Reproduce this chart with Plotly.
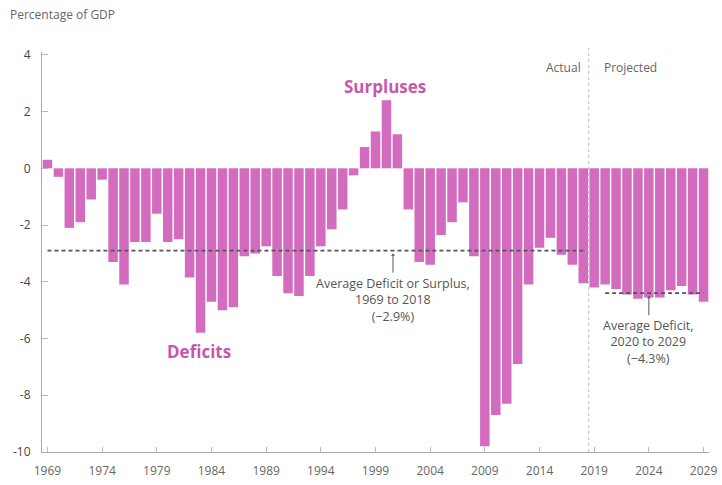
import plotly.graph_objects as go

years = list(range(1969, 2030))
deficit_pct = [
    0.3, -0.3, -2.1, -1.9, -1.1, -0.4, -3.3, -4.1, -2.6, -2.6,   # 1969-1978
    -1.6, -2.6, -2.5, -3.85, -5.8, -4.7, -5.0, -4.9, -3.1, -3.0,  # 1979-1988
    -2.75, -3.8, -4.4, -4.5, -3.8, -2.75, -2.15, -1.45, -0.25, 0.75,  # 1989-1998
    1.3, 2.4, 1.2, -1.45, -3.3, -3.4, -2.35, -1.9, -1.2, -3.1,    # 1999-2008
    -9.8, -8.7, -8.3, -6.9, -4.1, -2.8, -2.45, -3.05, -3.4, -4.05, # 2009-2018
    -4.2, -4.1, -4.25, -4.45, -4.6, -4.55, -4.55, -4.3, -4.15, -4.45, # 2019-2028
    -4.7,                                                          # 2029
]
avg_actual_years = [1969, 2018]
avg_actual_value = -2.9
avg_proj_years = [2020, 2029]
avg_proj_value = -4.4
divider_year = 2018.5

x_tick_vals = list(range(1969, 2030, 5))
y_tick_vals = [4, 2, 0, -2, -4, -6, -8, -10]
y_tick_text = ["4", "2", "0", "-2", "-4", "-6", "-8", "-10"]

BAR = "#D36CBE"
PINK_TEXT = "#C857AC"
GREY = "#666666"
FONT = "Open Sans"

fig = go.Figure()
fig.add_trace(go.Bar(x=years, y=deficit_pct, marker=dict(color=BAR, line=dict(width=0)),
                     hoverinfo="x+y"))
fig.add_trace(go.Scatter(x=avg_actual_years, y=[avg_actual_value] * 2, mode="lines",
                         line=dict(color="#555555", width=1.6, dash="4px,3px")))
fig.add_trace(go.Scatter(x=avg_proj_years, y=[avg_proj_value] * 2, mode="lines",
                         line=dict(color="#555555", width=1.6, dash="4px,3px")))

fig.add_shape(type="line", xref="x", yref="paper", x0=divider_year, x1=divider_year,
              y0=0, y1=1.01, line=dict(color="#bbbbbb", width=1, dash="dot"), layer="above")

ann_font = dict(family=FONT, size=12.5, color="#555555")
fig.add_annotation(x=2000.6, y=avg_actual_value, xref="x", yref="y",
                   text="Average Deficit or Surplus,<br>1969 to 2018<br>(\u22122.9%)",
                   showarrow=True, arrowhead=1, arrowsize=0.7, arrowwidth=1, arrowcolor="#555555",
                   ax=0, ay=22, yanchor="top", font=ann_font, standoff=3, align="center")
fig.add_annotation(x=2024, y=avg_proj_value, xref="x", yref="y",
                   text="Average Deficit,<br>2020 to 2029<br>(\u22124.3%)",
                   showarrow=True, arrowhead=1, arrowsize=0.7, arrowwidth=1, arrowcolor="#555555",
                   ax=0, ay=22, yanchor="top", font=ann_font, standoff=3, align="center")

fig.add_annotation(x=1999.9, y=2.9, xref="x", yref="y", text="<b>Surpluses</b>",
                   showarrow=False, font=dict(family=FONT, size=17, color=PINK_TEXT))
fig.add_annotation(x=1982.9, y=-6.45, xref="x", yref="y", text="<b>Deficits</b>",
                   showarrow=False, font=dict(family=FONT, size=17, color=PINK_TEXT))

fig.add_annotation(x=divider_year, y=3.55, xref="x", yref="y", text="Actual", showarrow=False,
                   xanchor="right", xshift=-6, font=dict(family=FONT, size=12, color=GREY))
fig.add_annotation(x=divider_year, y=3.55, xref="x", yref="y", text="Projected", showarrow=False,
                   xanchor="left", xshift=13, font=dict(family=FONT, size=12, color=GREY))

fig.add_annotation(x=-0.051, y=1.0925, xref="paper", yref="paper", text="Percentage of GDP",
                   showarrow=False, xanchor="left", yanchor="middle",
                   font=dict(family=FONT, size=12, color=GREY))

fig.update_layout(
    width=722, height=485,
    margin=dict(l=42, r=13, t=52, b=33),
    paper_bgcolor="white", plot_bgcolor="white",
    showlegend=False, bargap=0.13,
    font=dict(family=FONT, size=12, color=GREY),
    xaxis=dict(range=[1968.5, 2029.5], tickvals=x_tick_vals, ticks="inside", ticklen=5,
               tickcolor="#bbbbbb", showline=True, linecolor="#aaaaaa", linewidth=1,
               showgrid=False, zeroline=False, ticklabelstandoff=8, automargin=False,
               tickfont=dict(family=FONT, size=12, color=GREY)),
    yaxis=dict(range=[-10, 4.1], tickvals=y_tick_vals, ticktext=y_tick_text, ticks="inside",
               ticklen=6, tickcolor="#bbbbbb", showline=True, linecolor="#aaaaaa", linewidth=1,
               showgrid=False, zeroline=False, ticklabelstandoff=8, automargin=False,
               tickfont=dict(family=FONT, size=12, color="#444444")),
)

fig.write_html("out.html", config={"displayModeBar": False},
               post_script="document.body.style.margin='0';document.body.style.overflow='hidden';")
